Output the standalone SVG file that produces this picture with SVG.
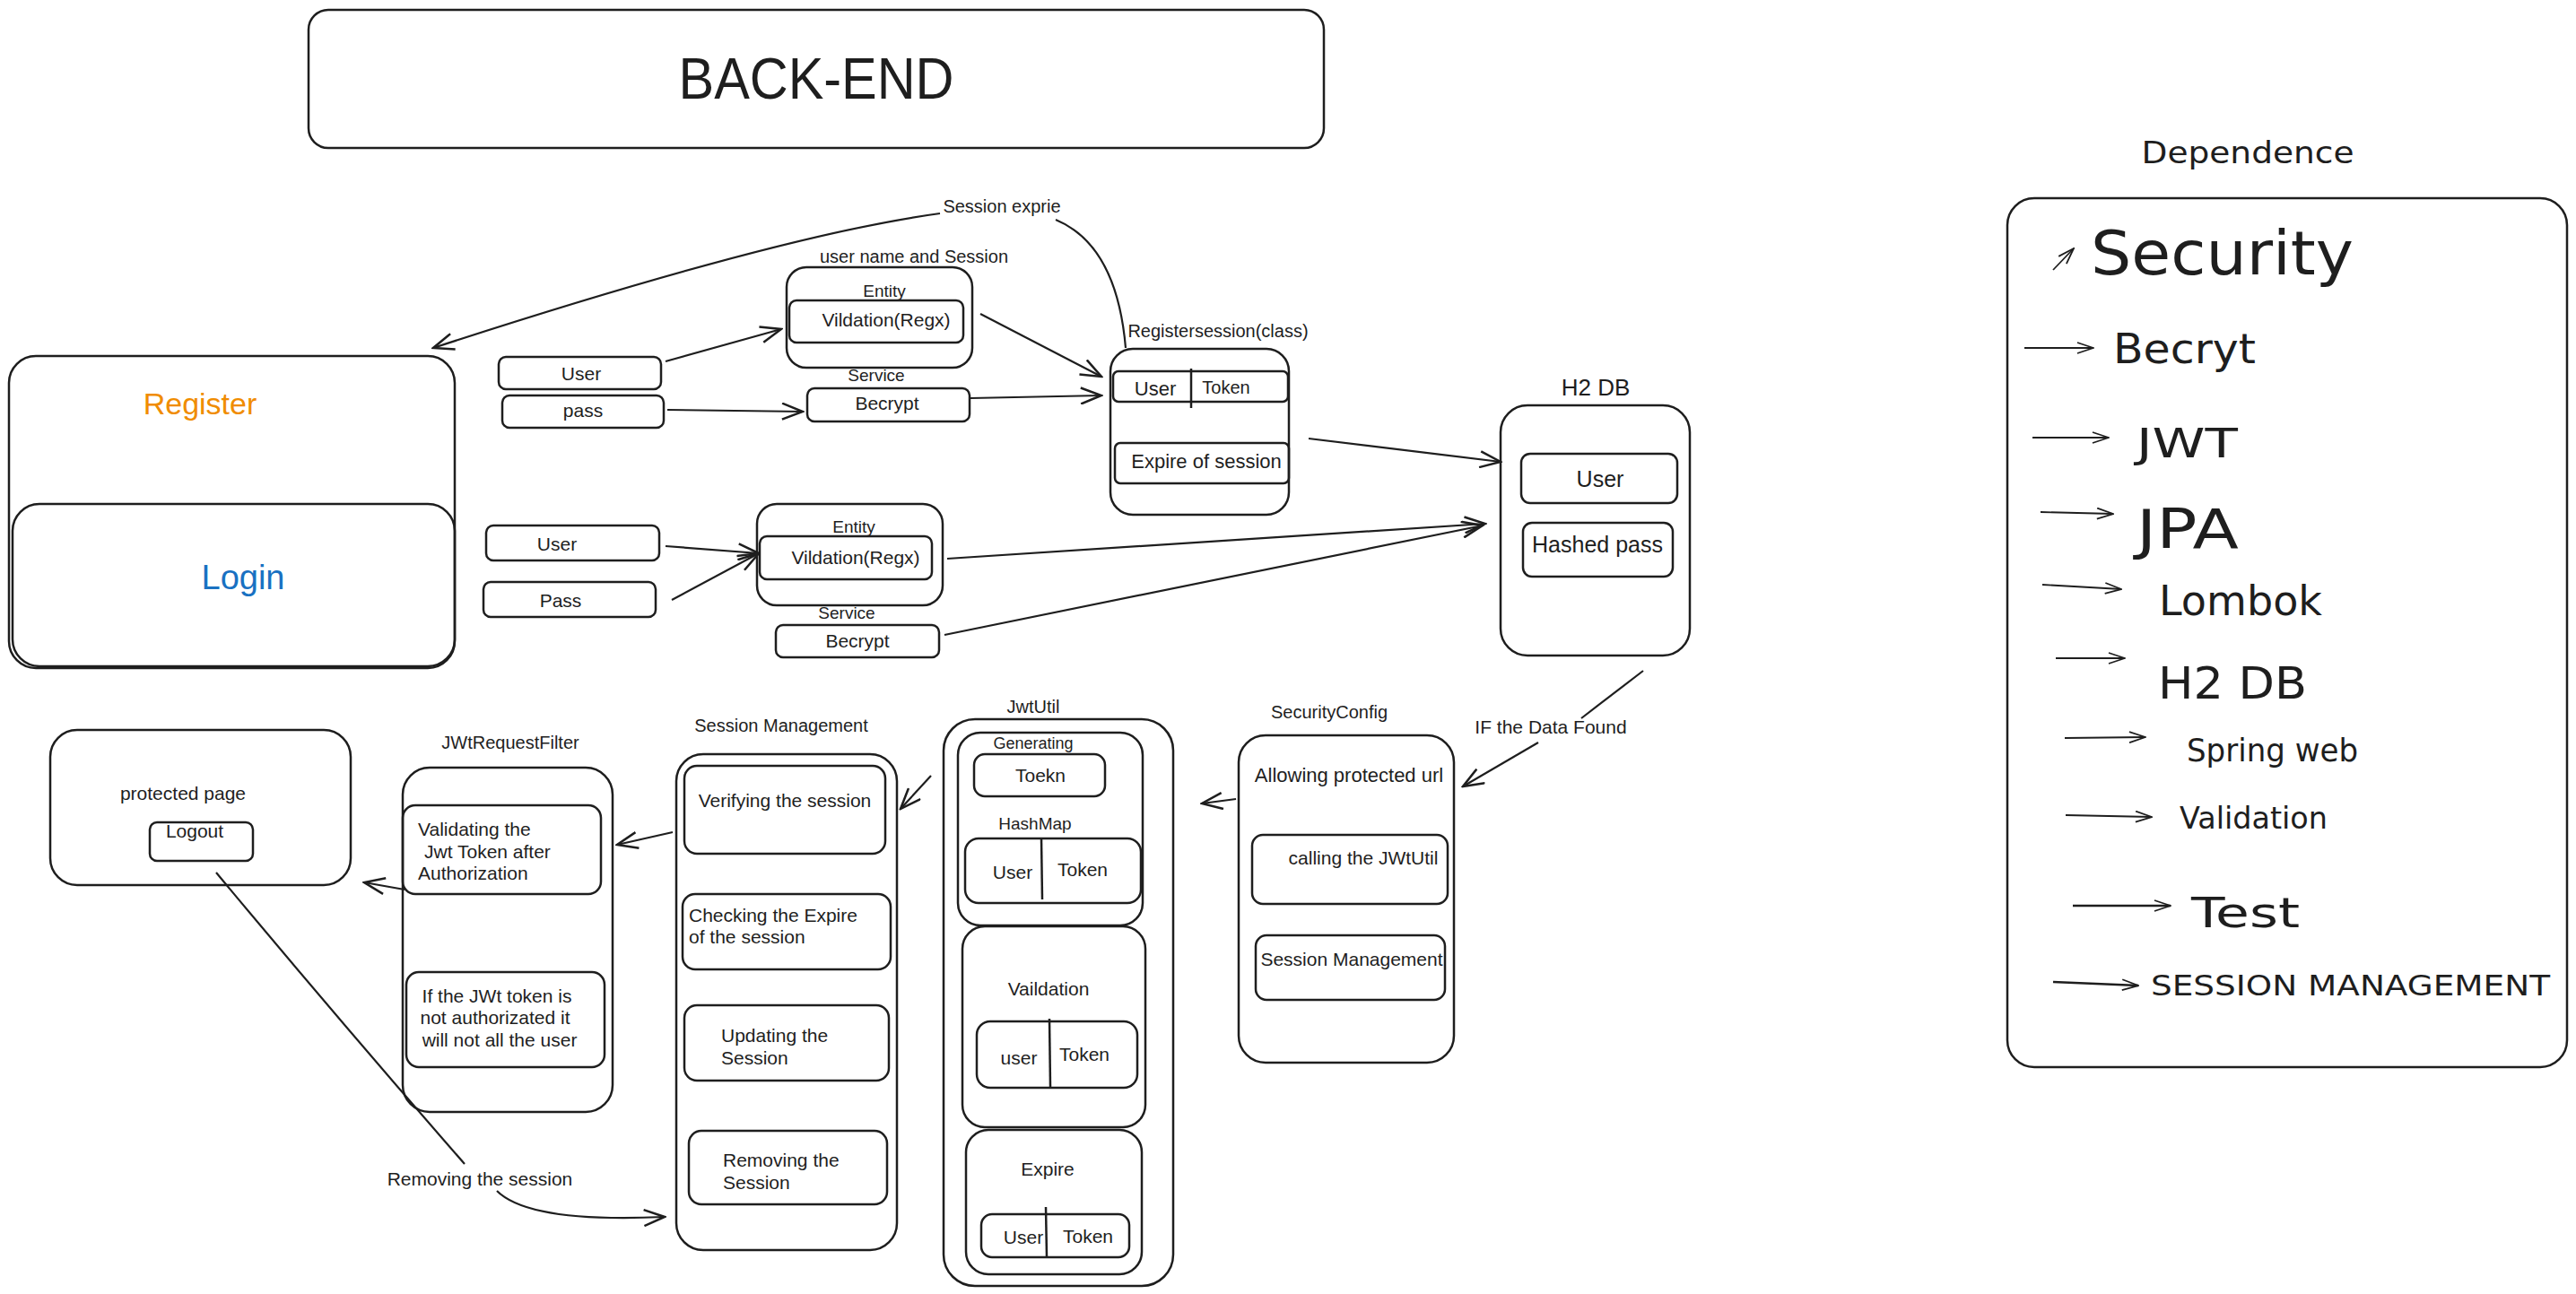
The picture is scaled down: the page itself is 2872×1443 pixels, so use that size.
<svg xmlns="http://www.w3.org/2000/svg" width="2872" height="1443" viewBox="0 0 2872 1443">
<style>
rect{fill:none;stroke:#1e1e1e;stroke-width:2.5}
.c path,.c line{fill:none;stroke:#1e1e1e;stroke-width:2.2}
.div{stroke:#1e1e1e;stroke-width:2.5}
text{font-family:"Liberation Sans",Arial,sans-serif;fill:#1e1e1e;font-size:21px}
.m{text-anchor:middle}
.lbl{font-size:20px}
.b{font-size:22px}
.dep text{font-family:"DejaVu Sans","Liberation Sans",sans-serif}
</style>
<defs>
<marker id="ah" viewBox="0 0 26 20" refX="24" refY="10" markerWidth="26" markerHeight="20" markerUnits="userSpaceOnUse" orient="auto">
<path d="M1,1 L24,10 L1,19" fill="none" stroke="#1e1e1e" stroke-width="2.5"/>
</marker>
<marker id="ahs" viewBox="0 0 20 14" refX="19" refY="7" markerWidth="20" markerHeight="14" markerUnits="userSpaceOnUse" orient="auto">
<path d="M1,1 L19,7 L1,13" fill="none" stroke="#1e1e1e" stroke-width="1.8"/>
</marker>
</defs>
<rect x="0" y="0" width="2872" height="1443" style="fill:#ffffff;stroke:none"/>

<g id="backend">
<rect x="344" y="11" width="1132" height="154" rx="22"/>
<text x="910" y="110" class="m" style="font-size:64px" textLength="307" lengthAdjust="spacingAndGlyphs">BACK-END</text>
</g>

<g id="register">
<rect x="10" y="397" width="497" height="348" rx="30"/>
<text x="223" y="462" class="m" style="font-size:34px;fill:#f08c00">Register</text>
</g>
<g id="login">
<rect x="14" y="562" width="493" height="181" rx="30"/>
<text x="271" y="657" class="m" style="font-size:38px;fill:#1971c2">Login</text>
</g>

<g id="reg-user">
<rect x="556" y="398" width="181" height="36" rx="8"/>
<text x="648" y="424" class="m">User</text>
</g>
<g id="reg-pass">
<rect x="560" y="441" width="180" height="36" rx="8"/>
<text x="650" y="465" class="m">pass</text>
</g>

<g id="reg-entity">
<text x="1019" y="293" class="m lbl">user name and Session</text>
<rect x="877" y="298" width="207" height="112" rx="22"/>
<text x="986" y="331" class="m" style="font-size:19px">Entity</text>
<rect x="880" y="335" width="194" height="47" rx="8"/>
<text x="988" y="364" class="m">Vildation(Regx)</text>
</g>

<g id="reg-service">
<text x="977" y="425" class="m" style="font-size:19px">Service</text>
<rect x="900" y="433" width="181" height="37" rx="8"/>
<text x="989" y="457" class="m">Becrypt</text>
</g>

<g id="registersession">
<text x="1358" y="376" class="m lbl">Registersession(class)</text>
<rect x="1238" y="389" width="199" height="185" rx="25"/>
<rect x="1241" y="414" width="195" height="34" rx="6"/>
<line x1="1328" y1="411" x2="1328" y2="455" class="div"/>
<text x="1288" y="441" class="m" style="font-size:22px">User</text>
<text x="1367" y="439" class="m lbl">Token</text>
<rect x="1243" y="494" width="194" height="45" rx="6"/>
<text x="1345" y="522" class="m b">Expire of session</text>
</g>

<g id="h2db">
<text x="1779" y="441" class="m" style="font-size:26px">H2 DB</text>
<rect x="1673" y="452" width="211" height="279" rx="30"/>
<rect x="1696" y="506" width="174" height="55" rx="10"/>
<text x="1784" y="543" class="m" style="font-size:25px">User</text>
<rect x="1698" y="583" width="167" height="60" rx="10"/>
<text x="1781" y="616" class="m" style="font-size:25px">Hashed pass</text>
</g>

<g id="login-user">
<rect x="542" y="586" width="193" height="39" rx="8"/>
<text x="621" y="614" class="m">User</text>
</g>
<g id="login-pass">
<rect x="539" y="649" width="192" height="39" rx="8"/>
<text x="625" y="677" class="m">Pass</text>
</g>
<g id="login-entity">
<rect x="844" y="562" width="207" height="113" rx="22"/>
<text x="952" y="594" class="m" style="font-size:19px">Entity</text>
<rect x="847" y="598" width="192" height="48" rx="8"/>
<text x="954" y="629" class="m">Vildation(Regx)</text>
</g>
<g id="login-service">
<text x="944" y="690" class="m" style="font-size:19px">Service</text>
<rect x="865" y="697" width="182" height="36" rx="8"/>
<text x="956" y="722" class="m">Becrypt</text>
</g>

<g id="securityconfig">
<text x="1482" y="801" class="m lbl">SecurityConfig</text>
<rect x="1381" y="820" width="240" height="365" rx="30"/>
<text x="1504" y="872" class="m b">Allowing protected url</text>
<rect x="1396" y="931" width="218" height="77" rx="12"/>
<text x="1520" y="964" class="m">calling the JWtUtil</text>
<rect x="1400" y="1043" width="211" height="72" rx="12"/>
<text x="1507" y="1077" class="m">Session Management</text>
</g>

<g id="jwtutil">
<text x="1152" y="795" class="m lbl">JwtUtil</text>
<rect x="1052" y="802" width="256" height="632" rx="35"/>
<rect x="1068" y="817" width="206" height="215" rx="25"/>
<text x="1152" y="835" class="m" style="font-size:18px">Generating</text>
<rect x="1086" y="841" width="146" height="47" rx="12"/>
<text x="1160" y="872" class="m">Toekn</text>
<text x="1154" y="925" class="m" style="font-size:19px">HashMap</text>
<rect x="1076" y="935" width="196" height="72" rx="15"/>
<line x1="1161" y1="934" x2="1162" y2="1003" class="div"/>
<text x="1129" y="980" class="m">User</text>
<text x="1207" y="977" class="m">Token</text>
<rect x="1073" y="1033" width="204" height="224" rx="25"/>
<text x="1169" y="1110" class="m">Vaildation</text>
<rect x="1089" y="1139" width="179" height="74" rx="15"/>
<line x1="1170" y1="1136" x2="1171" y2="1212" class="div"/>
<text x="1136" y="1187" class="m">user</text>
<text x="1209" y="1183" class="m">Token</text>
<rect x="1077" y="1260" width="196" height="161" rx="25"/>
<text x="1168" y="1311" class="m">Expire</text>
<rect x="1094" y="1354" width="165" height="48" rx="12"/>
<line x1="1166" y1="1346" x2="1167" y2="1402" class="div"/>
<text x="1141" y="1387" class="m">User</text>
<text x="1213" y="1386" class="m">Token</text>
</g>

<g id="sessionmanagement">
<text x="871" y="816" class="m lbl">Session Management</text>
<rect x="754" y="841" width="246" height="553" rx="30"/>
<rect x="763" y="854" width="224" height="98" rx="14"/>
<text x="875" y="900" class="m">Verifying the session</text>
<rect x="761" y="997" width="232" height="84" rx="14"/>
<text x="768" y="1028">Checking the Expire</text>
<text x="768" y="1052">of the session</text>
<rect x="763" y="1121" width="228" height="84" rx="14"/>
<text x="804" y="1162">Updating the</text>
<text x="804" y="1187">Session</text>
<rect x="768" y="1261" width="221" height="82" rx="14"/>
<text x="806" y="1301">Removing the</text>
<text x="806" y="1326">Session</text>
</g>

<g id="jwtrequestfilter">
<text x="569" y="835" class="m lbl">JWtRequestFilter</text>
<rect x="449" y="856" width="234" height="384" rx="30"/>
<rect x="449" y="898" width="221" height="99" rx="14"/>
<text x="466" y="932">Validating the</text>
<text x="473" y="957">Jwt Token after</text>
<text x="466" y="981">Authorization</text>
<rect x="453" y="1084" width="221" height="106" rx="14"/>
<text x="554" y="1118" class="m">If the JWt token is</text>
<text x="552" y="1142" class="m">not authorizated it</text>
<text x="557" y="1167" class="m">will not all the user</text>
</g>

<g id="protectedpage">
<rect x="56" y="814" width="335" height="173" rx="30"/>
<text x="204" y="892" class="m">protected page</text>
<rect x="167" y="917" width="115" height="43" rx="8"/>
<text x="217" y="934" class="m">Logout</text>
</g>

<g id="connectors" class="c">
<path d="M1255,388 C1250,330 1232,268 1177,245"/>
<path d="M1048,238 Q870,262 483,388" marker-end="url(#ah)"/>
<text x="1117" y="237" class="m lbl">Session exprie</text>
<path d="M742,403 L871,367" marker-end="url(#ah)"/>
<path d="M744,457 L895,459" marker-end="url(#ah)"/>
<path d="M1093,350 L1228,420" marker-end="url(#ah)"/>
<path d="M1082,444 L1228,441" marker-end="url(#ah)"/>
<path d="M1459,489 L1673,515" marker-end="url(#ah)"/>
<path d="M742,609 L846,617" marker-end="url(#ah)"/>
<path d="M749,669 L846,617" marker-end="url(#ah)"/>
<path d="M1056,623 L1656,584" marker-end="url(#ah)"/>
<path d="M1053,708 L1653,586" marker-end="url(#ah)"/>
<path d="M1832,748 L1763,801"/>
<path d="M1715,828 L1631,877" marker-end="url(#ah)"/>
<text x="1729" y="818" class="m">IF the Data Found</text>
<path d="M1378,891 L1340,896" marker-end="url(#ah)"/>
<path d="M1038,865 L1004,902" marker-end="url(#ah)"/>
<path d="M750,928 L688,942" marker-end="url(#ah)"/>
<path d="M451,992 L406,984" marker-end="url(#ah)"/>
<path d="M241,973 Q380,1140 518,1298"/>
<path d="M554,1328 Q590,1364 741,1357" marker-end="url(#ah)"/>
<text x="535" y="1322" class="m">Removing the session</text>
</g>

<g id="dependence" class="dep">
<text x="2506" y="182" class="m" style="font-size:34px" textLength="237" lengthAdjust="spacingAndGlyphs">Dependence</text>
<rect x="2238" y="221" width="624" height="969" rx="30"/>
<g class="c">
<path d="M2289,301 L2312,277" marker-end="url(#ahs)" style="stroke-width:1.8"/>
<path d="M2257,388 L2334,388" marker-end="url(#ahs)" style="stroke-width:1.8"/>
<path d="M2266,488 L2351,488" marker-end="url(#ahs)" style="stroke-width:1.8"/>
<path d="M2275,571 L2356,573" marker-end="url(#ahs)" style="stroke-width:1.8"/>
<path d="M2277,652 L2365,657" marker-end="url(#ahs)" style="stroke-width:1.8"/>
<path d="M2292,734 L2369,734" marker-end="url(#ahs)" style="stroke-width:1.8"/>
<path d="M2302,823 L2392,822" marker-end="url(#ahs)" style="stroke-width:1.8"/>
<path d="M2303,909 L2399,911" marker-end="url(#ahs)" style="stroke-width:1.8"/>
<path d="M2311,1010 L2420,1010" marker-end="url(#ahs)" style="stroke-width:2.4"/>
<path d="M2289,1095 L2384,1099" marker-end="url(#ahs)" style="stroke-width:2.4"/>
</g>
<text x="2331" y="306" style="font-size:68px" textLength="293" lengthAdjust="spacingAndGlyphs">Security</text>
<text x="2356" y="405" style="font-size:47px" textLength="159" lengthAdjust="spacingAndGlyphs">Becryt</text>
<text x="2382" y="510" style="font-size:44px" textLength="113" lengthAdjust="spacingAndGlyphs">JWT</text>
<text x="2382" y="611" style="font-size:60px" textLength="114" lengthAdjust="spacingAndGlyphs">JPA</text>
<text x="2407" y="686" style="font-size:46px" textLength="182" lengthAdjust="spacingAndGlyphs">Lombok</text>
<text x="2406" y="779" style="font-size:50px" textLength="166" lengthAdjust="spacingAndGlyphs">H2 DB</text>
<text x="2438" y="849" style="font-size:35px" textLength="191" lengthAdjust="spacingAndGlyphs">Spring web</text>
<text x="2430" y="924" style="font-size:33px" textLength="165" lengthAdjust="spacingAndGlyphs">Validation</text>
<text x="2443" y="1034" style="font-size:46px" textLength="121" lengthAdjust="spacingAndGlyphs">Test</text>
<text x="2398" y="1110" style="font-size:32px" textLength="445" lengthAdjust="spacingAndGlyphs">SESSION MANAGEMENT</text>
</g>
</svg>
